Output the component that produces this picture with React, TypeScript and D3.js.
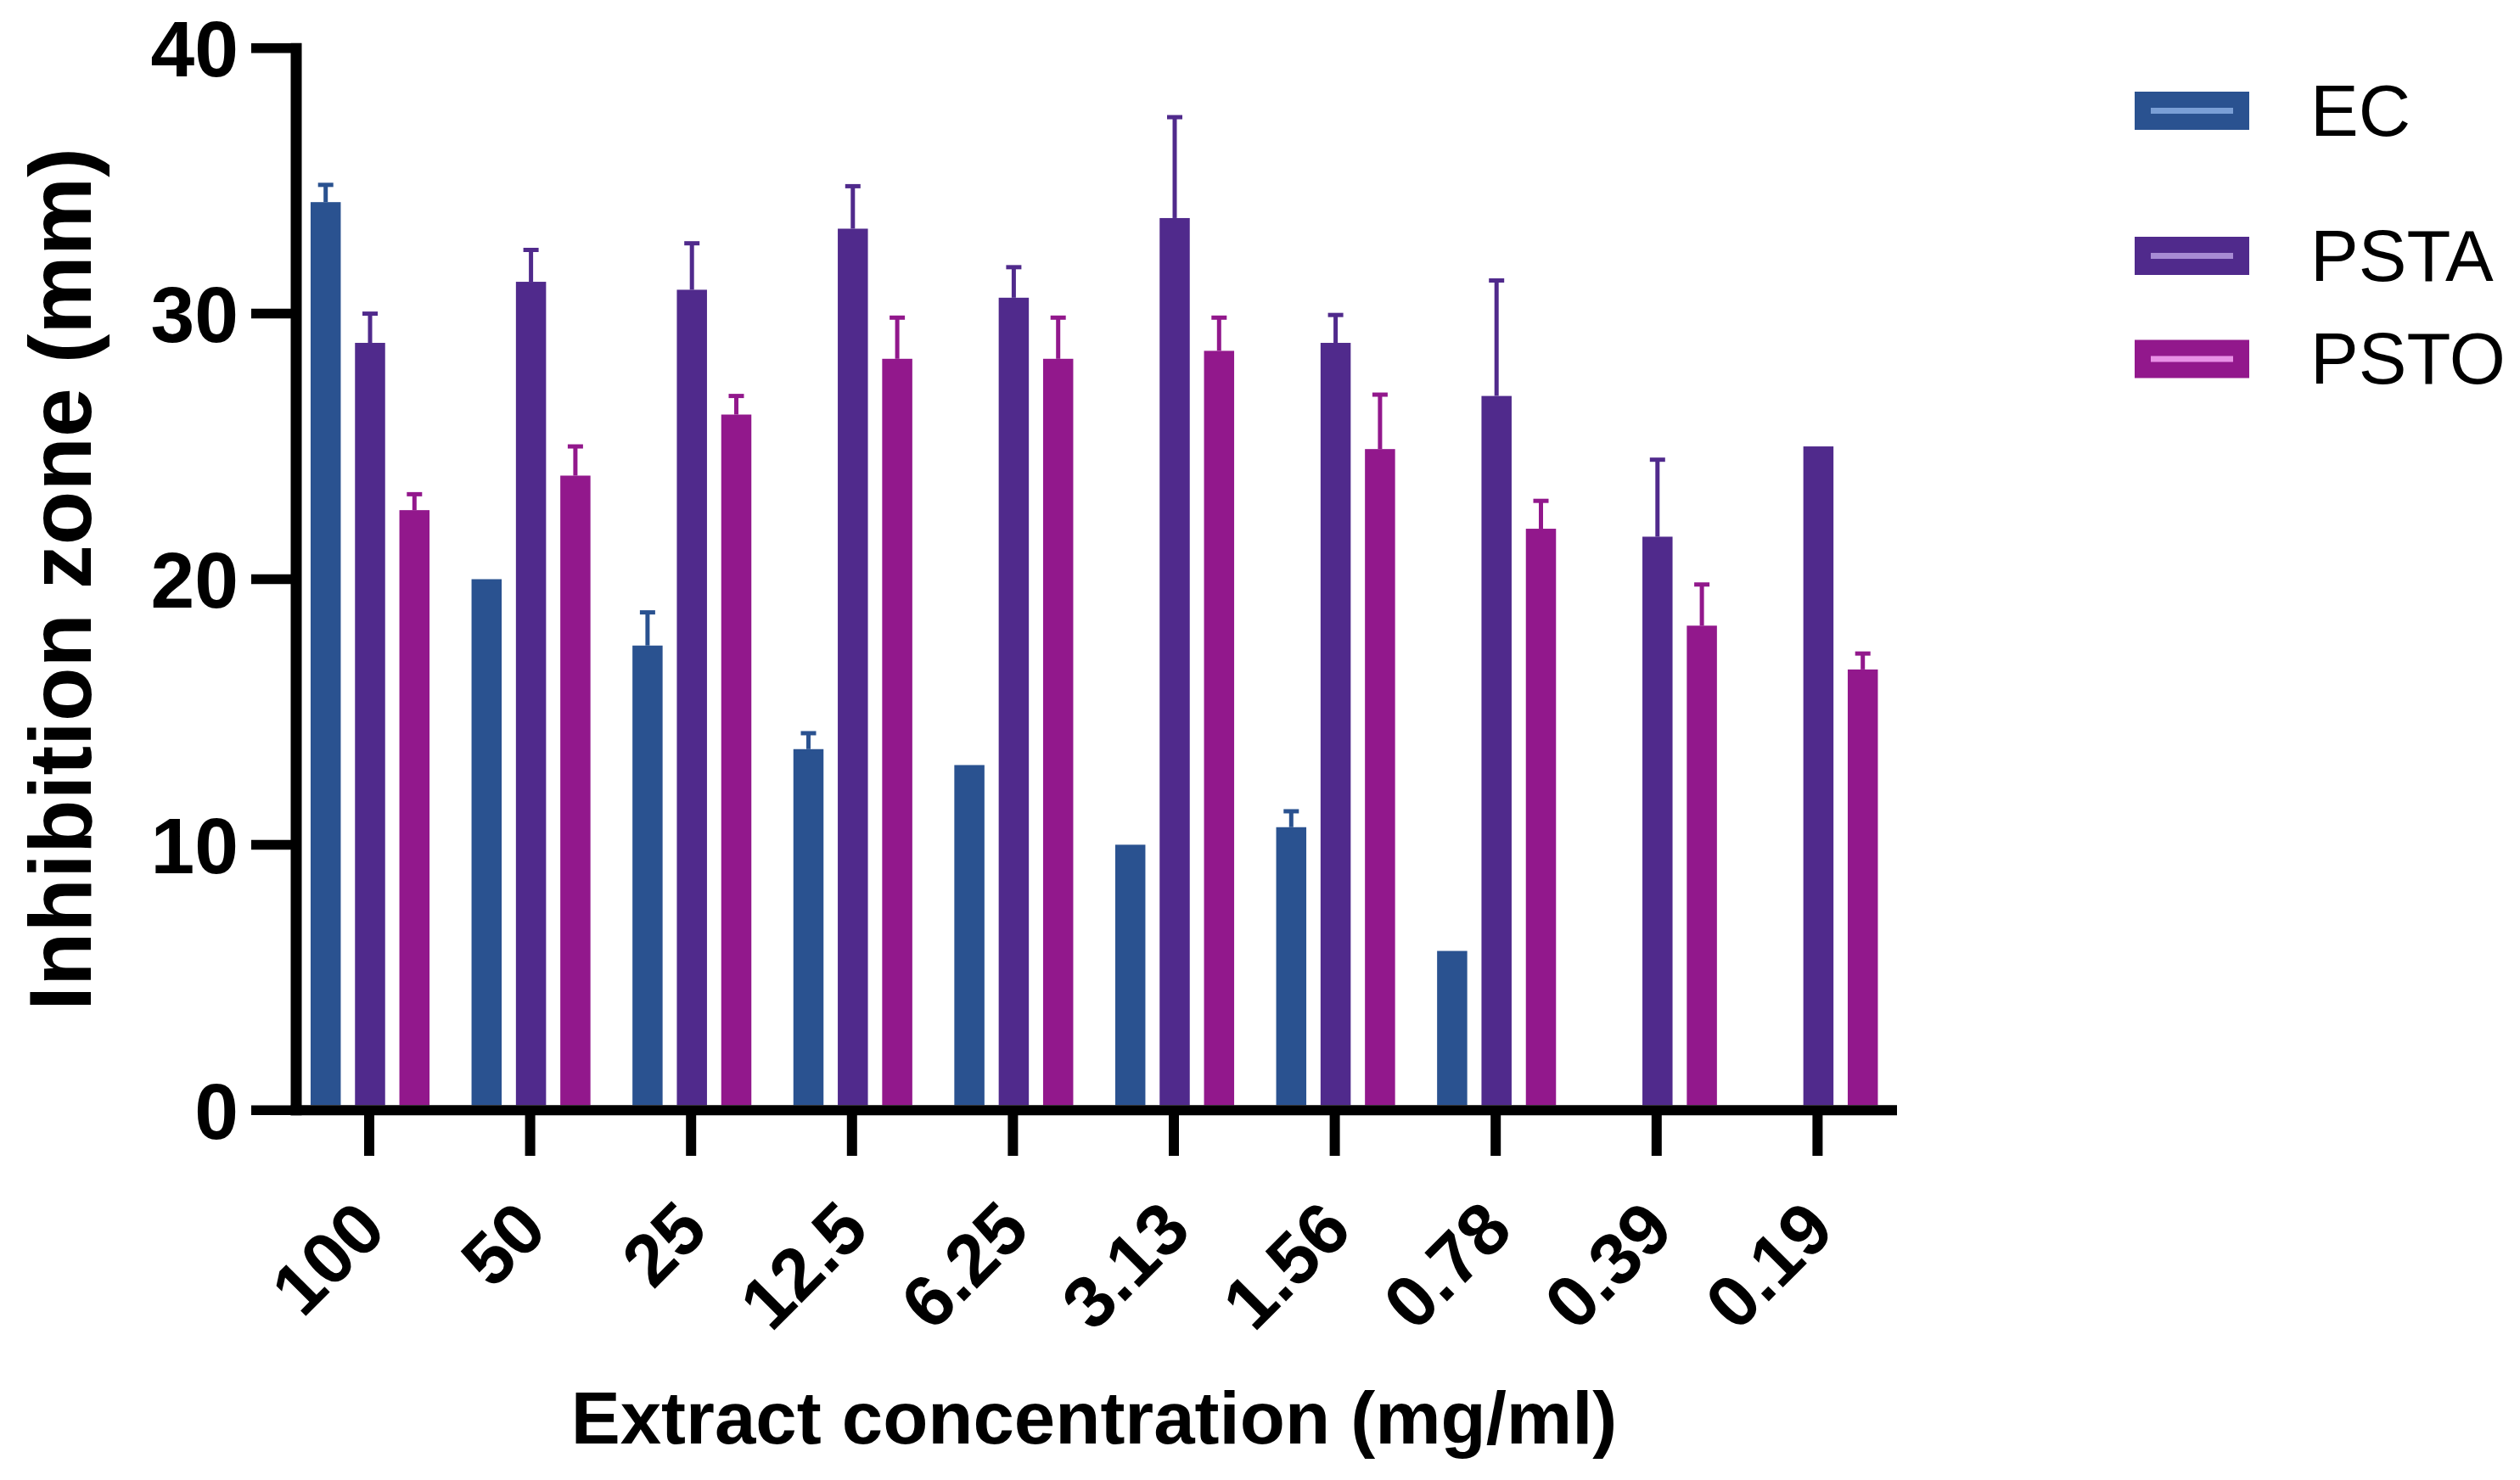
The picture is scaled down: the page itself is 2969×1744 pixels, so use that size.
import React from "react";
import * as d3 from "d3";

const categories = ["100", "50", "25", "12.5", "6.25", "3.13", "1.56", "0.78", "0.39", "0.19"];
const seriesNames = ["EC", "PSTA", "PSTO"];
const ecValues = [34.2, 20, 17.5, 13.6, 13, 10, 10.66, 6, 0, 0];
const ecErrors = [0.65, 0, 1.25, 0.6, 0, 0, 0.6, 0, 0, 0];
const pstaValues = [28.9, 31.2, 30.9, 33.2, 30.6, 33.6, 28.9, 26.9, 21.6, 25];
const pstaErrors = [1.1, 1.2, 1.75, 1.6, 1.15, 3.8, 1.05, 4.35, 2.9, 0];
const pstoValues = [22.6, 23.9, 26.2, 28.3, 28.3, 28.6, 24.9, 21.9, 18.25, 16.6];
const pstoErrors = [0.6, 1.1, 0.7, 1.55, 1.55, 1.25, 2.05, 1.05, 1.55, 0.6];
const yTicks = [0, 10, 20, 30, 40];

const colors = ["#2A5290", "#502A8C", "#92188C"];
const lightColors = ["#7A9FD6", "#A78BD4", "#E890E6"];

const W = 2969;
const H = 1744;
const FONT = "'Liberation Sans', Arial, Helvetica, sans-serif";

export default function App() {
  const y = d3.scaleLinear().domain([0, 40]).range([1308.3, 56.7]);
  const x = d3.scaleBand().domain(categories).range([340.2, 2236.2]).padding(0);
  const inner = d3.scaleBand().domain(seriesNames).range([-78.45, 78.45]).padding(0);
  const barW = 35.5;
  const values = [ecValues, pstaValues, pstoValues];
  const errors = [ecErrors, pstaErrors, pstoErrors];
  const cx = (c: string) => (x(c) as number) + x.bandwidth() / 2 + 1;

  const axisLeft = 349;

  return (
    <svg
      width={W}
      height={H}
      viewBox={`0 0 ${W} ${H}`}
      style={{ position: "absolute", left: 0, top: 0, background: "#fff" }}
      fontFamily={FONT}
    >
      <rect x={0} y={0} width={W} height={H} fill="#fff" />
      {/* bars */}
      {seriesNames.map((s, si) => (
        <g key={s}>
          {categories.map((c, ci) => {
            const v = values[si][ci];
            if (v <= 0) return null;
            const center = cx(c) + (inner(s) as number) + inner.bandwidth() / 2;
            return (
              <rect
                key={c}
                x={center - barW / 2}
                y={y(v)}
                width={barW}
                height={y(0) - 6 - y(v)}
                fill={colors[si]}
              />
            );
          })}
        </g>
      ))}
      {/* error bars */}
      {seriesNames.map((s, si) => (
        <g key={s + "err"}>
          {categories.map((c, ci) => {
            const v = values[si][ci];
            const e = errors[si][ci];
            if (v <= 0 || e <= 0) return null;
            const center = cx(c) + (inner(s) as number) + inner.bandwidth() / 2;
            return (
              <g key={c}>
                <line x1={center} x2={center} y1={y(v)} y2={y(v + e)} stroke={colors[si]} strokeWidth={5} />
                <line x1={center - 9} x2={center + 9} y1={y(v + e)} y2={y(v + e)} stroke={colors[si]} strokeWidth={5} />
              </g>
            );
          })}
        </g>
      ))}
      {/* y axis */}
      <line x1={axisLeft} x2={axisLeft} y1={y(40) - 6} y2={y(0) + 6} stroke="#000" strokeWidth={13} />
      {yTicks.map((t) => (
        <g key={t}>
          <line x1={296} x2={axisLeft} y1={y(t)} y2={y(t)} stroke="#000" strokeWidth={11.5} />
          <text x={281} y={y(t)} dy="0.36em" textAnchor="end" fontSize={93} fontWeight="bold" fill="#000">
            {t}
          </text>
        </g>
      ))}
      {/* x axis */}
      <line x1={axisLeft - 6.5} x2={2235} y1={y(0)} y2={y(0)} stroke="#000" strokeWidth={12} />
      {categories.map((c) => (
        <g key={c}>
          <line x1={cx(c) - 1} x2={cx(c) - 1} y1={y(0)} y2={1362} stroke="#000" strokeWidth={12} />
          <text
            transform={`translate(${cx(c) + 22},1453) rotate(-45)`}
            textAnchor="end"
            fontSize={86}
            fontWeight="bold"
            fill="#000"
          >
            {c}
          </text>
        </g>
      ))}
      {/* axis titles */}
      <text x={1289} y={1701} textAnchor="middle" fontSize={87} fontWeight="bold" fill="#000">
        Extract concentration (mg/ml)
      </text>
      <text
        transform={`translate(107,${(y(0) + y(40)) / 2}) rotate(-90)`}
        textAnchor="middle"
        fontSize={104}
        fontWeight="bold"
        fill="#000"
      >
        Inhibition zone (mm)
      </text>
      {/* legend */}
      {seriesNames.map((s, si) => {
        const cy = [130.5, 301.5, 423][si];
        return (
          <g key={s + "leg"}>
            <rect x={2515} y={cy - 22.5} width={135} height={45} fill={colors[si]} />
            <rect x={2534} y={cy - 3.5} width={97} height={7} fill={lightColors[si]} />
            <text x={2722} y={cy + 29} fontSize={85} fill="#000">
              {s}
            </text>
          </g>
        );
      })}
    </svg>
  );
}
